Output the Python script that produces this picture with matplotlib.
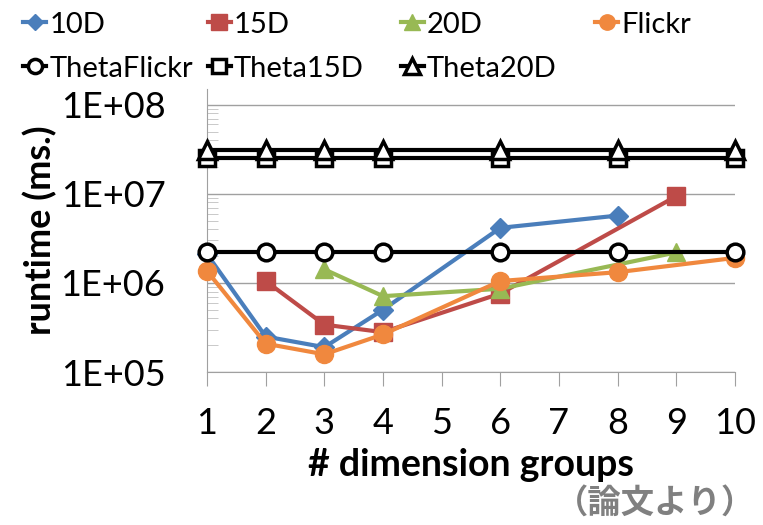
import numpy as np
import matplotlib.pyplot as plt
from matplotlib.ticker import FixedLocator, LogLocator, NullFormatter

plt.rcParams['font.family'] = ['Lato', 'DejaVu Sans']

groups = [1, 2, 3, 4, 5, 6, 7, 8, 9, 10]

x_10d = [1, 2, 3, 4, 6, 8]
y_10d = [2.1e6, 2.5e5, 1.9e5, 5.0e5, 4.15e6, 5.7e6]

x_15d = [2, 3, 4, 6, 9]
y_15d = [1.05e6, 3.4e5, 2.8e5, 7.6e5, 9.4e6]

x_20d = [3, 4, 6, 9]
y_20d = [1.42e6, 7.1e5, 8.6e5, 2.2e6]

x_flickr = [1, 2, 3, 4, 6, 8, 10]
y_flickr = [1.36e6, 2.08e5, 1.58e5, 2.64e5, 1.05e6, 1.32e6, 1.91e6]

x_theta = [1, 2, 3, 4, 6, 8, 10]
y_theta_flickr = [2.2e6] * 7
y_theta_15d = [2.5e7] * 7
y_theta_20d = [3.1e7] * 7

fig = plt.figure(figsize=(7.63, 5.25), dpi=100)
ax = fig.add_axes([0.2713, 0.2914, 0.692, 0.539])

l10, = ax.plot(x_10d, y_10d, color='#4A7EBB', lw=3, marker='D', ms=10, label='10D', clip_on=False, zorder=4)
l15, = ax.plot(x_15d, y_15d, color='#BE4B48', lw=3, marker='s', ms=13, label='15D', clip_on=False, zorder=4)
l20, = ax.plot(x_20d, y_20d, color='#98B954', lw=3, marker='^', ms=13, label='20D', clip_on=False, zorder=4)
lfl, = ax.plot(x_flickr, y_flickr, color='#F0883E', lw=3, marker='o', ms=13, label='Flickr',
               clip_on=False, zorder=4)
tfl, = ax.plot(x_theta, y_theta_flickr, color='black', lw=3, marker='o', ms=12, mfc='white', mew=2.5,
               label='ThetaFlickr', clip_on=False, zorder=5)
t15, = ax.plot(x_theta, y_theta_15d, color='black', lw=3, marker='s', ms=12, mfc='white', mew=2.5,
               label='Theta15D', clip_on=False, zorder=5)
t20, = ax.plot(x_theta, y_theta_20d, color='black', lw=3, marker='^', ms=13, mfc='white', mew=2.5,
               label='Theta20D', clip_on=False, zorder=5)

ax.set_yscale('log')
ax.set_ylim(1e5, 1.5e8)
ax.set_xlim(1, 10)
ax.set_xticks(groups)
ax.set_xticklabels([str(g) for g in groups], fontsize=26)
ax.yaxis.set_major_locator(FixedLocator([1e5, 1e6, 1e7, 1e8]))
ax.set_yticklabels(['1E+05', '1E+06', '1E+07', '1E+08'], fontsize=26)
ax.yaxis.set_minor_locator(LogLocator(base=10, subs=np.arange(2, 10)))
ax.yaxis.set_minor_formatter(NullFormatter())

ax.grid(axis='y', which='major', color='#A0A0A0', lw=1)
ax.set_axisbelow(True)
for s in ['top', 'right']:
    ax.spines[s].set_visible(False)
ax.spines['left'].set_color('#A0A0A0')
ax.spines['bottom'].set_color('#A0A0A0')
ax.tick_params(axis='x', direction='out', length=10, color='#A0A0A0', pad=15)
ax.tick_params(axis='y', which='major', direction='in', length=0, pad=30)
ax.tick_params(axis='y', which='minor', direction='in', length=8, color='#C0C0C0')

ax.set_xlabel('# dimension groups', fontsize=27, fontweight='bold', labelpad=6)
ax.set_ylabel('runtime (ms.)', fontsize=26, fontweight='bold', labelpad=2)

# legend: four columns, filled row by row like the original
columns = [[l10, tfl], [l15, t15], [l20, t20], [lfl]]
col_x = [0.03, 0.272, 0.525, 0.78]
for handles, cx in zip(columns, col_x):
    fig.legend(handles=handles, loc='upper left', bbox_to_anchor=(cx, 0.978), frameon=False,
               fontsize=21, handlelength=0.8, handletextpad=0.1, labelspacing=0.62,
               borderpad=0, borderaxespad=0, markerscale=0.85)

fig.text(0.99, 0.01, '（論文より）', fontsize=24, fontweight='bold', color='#808080',
         ha='right', va='bottom', family=['Noto Sans CJK JP'])

fig.savefig('out.png', dpi=100)
